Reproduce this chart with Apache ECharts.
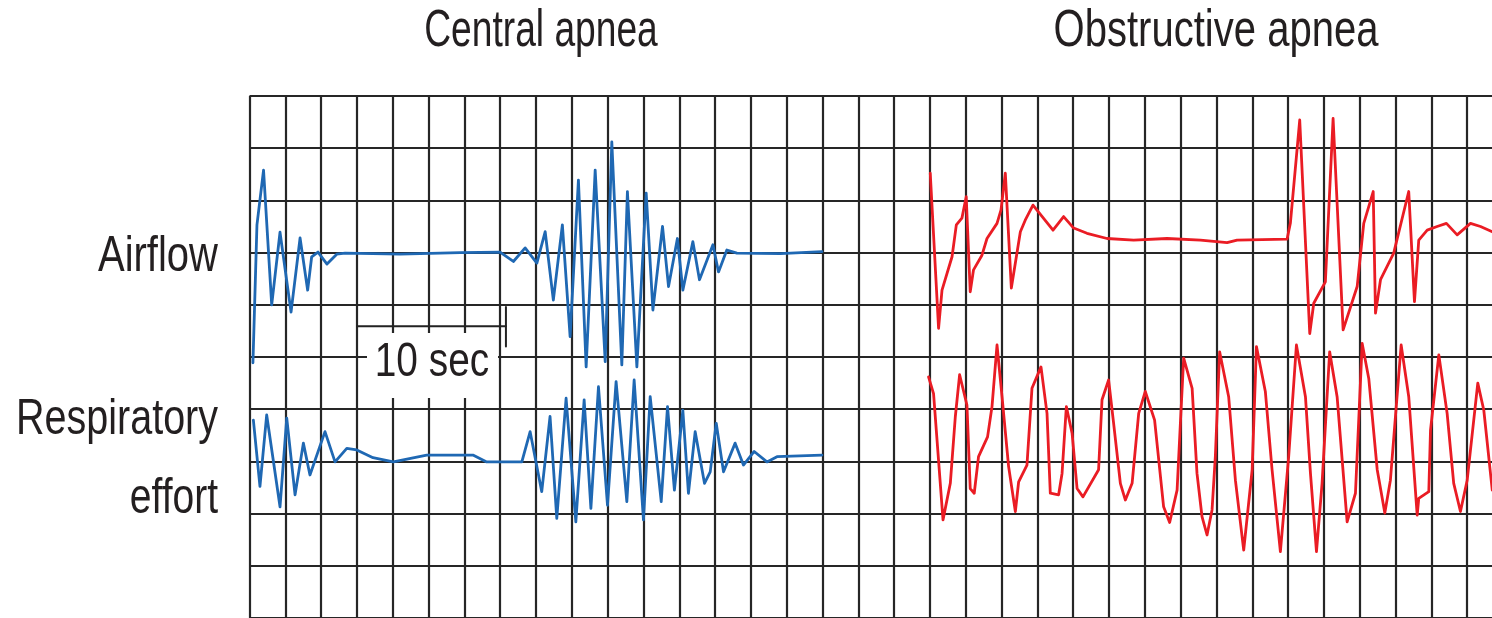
<!DOCTYPE html>
<html lang="en">
<head>
<meta charset="UTF-8"/>
<script src="https://cdn.jsdelivr.net/npm/echarts@6/dist/echarts.min.js"></script>
<title>Central vs obstructive apnea</title>
<style>html,body{margin:0;padding:0;background:#fff;overflow:hidden;}</style>
</head>
<body>
<!-- the chart runs a little past the right edge, like the cropped original -->
<div id="main" style="width:1503px;height:618px;"></div>
<script type="text/javascript">
// x = time in seconds (one grid cell = 2.5 s), y = level in grid cells from the bottom
var centralAirflow = [
    [0.24, 4.89], [0.52, 7.53], [0.98, 8.58], [1.55, 6.00], [2.13, 7.39], [2.90, 5.86],
    [3.53, 7.28], [4.06, 6.28], [4.34, 6.92], [4.78, 7.01], [5.41, 6.78], [6.09, 6.97],
    [6.67, 6.99], [10.51, 6.97], [14.70, 7.00], [17.49, 7.01], [18.42, 6.83], [19.24, 7.09],
    [20.06, 6.80], [20.64, 7.40], [21.21, 6.09], [21.84, 7.53], [22.38, 5.39], [22.96, 8.39],
    [23.50, 4.81], [24.13, 8.58], [24.83, 4.91], [25.29, 9.12], [25.99, 4.85], [26.38, 8.17],
    [27.04, 4.81], [27.69, 8.14], [28.16, 5.90], [28.83, 7.50], [29.25, 6.35], [29.87, 7.27],
    [30.25, 6.28], [30.95, 7.21], [31.41, 6.48], [32.35, 7.15], [32.74, 6.63], [33.32, 7.05],
    [34.02, 6.99], [37.05, 6.98], [39.96, 7.02]
];
var centralEffort = [
    [0.27, 3.79], [0.73, 2.52], [1.20, 3.89], [2.13, 2.13], [2.60, 3.83], [3.18, 2.36],
    [3.76, 3.35], [4.22, 2.74], [5.27, 3.57], [5.97, 2.99], [6.79, 3.25], [7.49, 3.22],
    [8.62, 3.07], [10.04, 2.99], [12.37, 3.12], [15.63, 3.12], [16.56, 2.99], [19.01, 2.99],
    [19.59, 3.57], [20.40, 2.42], [20.98, 3.86], [21.45, 1.91], [22.10, 4.21], [22.78, 1.84],
    [23.36, 4.18], [23.83, 2.10], [24.36, 4.43], [24.99, 2.16], [25.59, 4.53], [26.34, 2.23],
    [26.85, 4.56], [27.50, 1.88], [27.97, 4.24], [28.74, 2.23], [29.18, 4.05], [29.66, 2.45],
    [30.25, 3.98], [30.64, 2.39], [31.11, 3.57], [31.76, 2.58], [32.16, 2.80], [32.58, 3.73],
    [33.09, 2.80], [33.90, 3.35], [34.48, 2.93], [35.23, 3.19], [36.12, 2.99], [36.82, 3.09],
    [39.96, 3.12]
];
var obstructiveAirflow = [
    [47.52, 8.52], [48.10, 5.55], [48.34, 6.28], [49.04, 6.92], [49.34, 7.53], [49.73, 7.66],
    [50.03, 8.07], [50.31, 6.25], [50.54, 6.67], [51.13, 6.95], [51.48, 7.27], [52.18, 7.56],
    [52.46, 7.82], [52.76, 8.52], [53.18, 6.32], [53.81, 7.40], [54.15, 7.62], [54.69, 7.91],
    [56.09, 7.43], [56.83, 7.69], [57.53, 7.47], [58.46, 7.37], [59.86, 7.27], [61.72, 7.24],
    [64.05, 7.27], [66.38, 7.24], [68.24, 7.19], [68.94, 7.24], [72.43, 7.26], [72.66, 7.57],
    [73.31, 9.54], [74.01, 5.45], [74.29, 6.03], [75.10, 6.44], [75.64, 9.57], [76.34, 5.52],
    [77.32, 6.35], [77.78, 7.56], [78.44, 8.17], [78.60, 5.84], [78.95, 6.48], [79.87, 6.99],
    [80.92, 8.17], [81.32, 6.06], [81.62, 7.24], [82.21, 7.43], [82.90, 7.50], [83.55, 7.56],
    [84.30, 7.34], [85.23, 7.56], [85.93, 7.50], [86.75, 7.40]
];
var obstructiveEffort = [
    [47.40, 4.62], [47.75, 4.30], [48.41, 1.88], [48.92, 2.58], [49.27, 3.86], [49.57, 4.66],
    [50.08, 4.08], [50.31, 2.48], [50.59, 2.39], [50.89, 3.09], [51.52, 3.47], [51.83, 4.05],
    [52.18, 5.23], [52.53, 4.24], [52.99, 2.90], [53.46, 2.04], [53.69, 2.61], [54.27, 2.93],
    [54.62, 4.40], [55.25, 4.81], [55.67, 3.92], [55.90, 2.39], [56.48, 2.36], [56.72, 2.77],
    [57.02, 4.05], [57.42, 3.54], [57.77, 2.48], [58.18, 2.32], [59.27, 2.84], [59.51, 4.18],
    [59.97, 4.56], [60.32, 3.73], [60.79, 2.58], [61.14, 2.26], [61.61, 2.58], [62.07, 3.92],
    [62.53, 4.34], [63.18, 3.79], [63.81, 2.13], [64.23, 1.83], [64.75, 2.45], [64.98, 3.73],
    [65.21, 4.98], [65.80, 4.40], [66.14, 2.77], [66.49, 1.94], [66.84, 1.59], [67.19, 2.07],
    [67.42, 3.09], [67.72, 5.10], [68.35, 4.24], [68.82, 2.64], [69.40, 1.30], [69.99, 2.84],
    [70.29, 5.20], [70.91, 4.34], [71.38, 2.84], [71.96, 1.27], [72.54, 3.09], [73.08, 5.23],
    [73.71, 4.24], [74.06, 2.77], [74.48, 1.27], [74.87, 2.58], [75.40, 5.10], [75.92, 4.24],
    [76.62, 1.84], [77.20, 2.39], [77.67, 5.26], [78.13, 4.59], [78.72, 2.84], [79.25, 2.01],
    [79.64, 2.64], [80.39, 5.23], [80.92, 4.24], [81.51, 1.97], [81.62, 2.29], [82.32, 2.42],
    [82.44, 3.60], [83.02, 5.04], [83.60, 3.92], [84.06, 2.58], [84.53, 2.04], [85.00, 2.64],
    [85.74, 4.50], [86.16, 3.98], [86.75, 2.45]
];
// 10 second scale bar
var scaleBar = [[7.5, 5.59], [17.9, 5.59]];
var scaleTick = [[17.9, 5.96], [17.9, 5.20]];

var titles = ['Central apnea', 'Obstructive apnea'];
var rowLabels = ['Airflow', 'Respiratory', 'effort'];
var scaleLabel = '10 sec';

var BLUE = '#1f68b3';
var RED = '#ea1c24';
var INK = '#231f20';
var FONT = '"Liberation Sans", Arial, sans-serif';

var myChart = echarts.init(document.getElementById('main'));

function trace(data, color, w) {
    return {
        type: 'line',
        data: data,
        showSymbol: false,
        symbol: 'none',
        smooth: false,
        lineStyle: { color: color, width: w, join: 'round', cap: 'round' },
        z: 3
    };
}

function txt(text, x, y, size, align, sx) {
    return {
        type: 'text',
        x: x,
        y: y,
        scaleX: sx,
        z: 20,
        style: {
            text: text,
            font: size + 'px ' + FONT,
            fill: INK,
            textAlign: align,
            textVerticalAlign: 'middle'
        }
    };
}

var option = {
    animation: false,
    backgroundColor: '#fff',
    grid: { left: 249.5, right: 0, top: 96, height: 524 },
    xAxis: {
        type: 'value',
        min: 0,
        max: 87.5,
        interval: 2.5,
        axisLine: { show: false },
        axisTick: { show: false },
        axisLabel: { show: false },
        splitLine: { show: true, lineStyle: { color: '#262626', width: 2.2 } }
    },
    yAxis: {
        type: 'value',
        min: 0,
        max: 10,
        interval: 1,
        axisLine: { show: false },
        axisTick: { show: false },
        axisLabel: { show: false },
        splitLine: { show: true, lineStyle: { color: '#262626', width: 2.2 } }
    },
    graphic: [
        { type: 'rect', z: 10, shape: { x: 367, y: 333, width: 131, height: 65 }, style: { fill: '#fff' } },
        txt(titles[0], 541, 32, 52, 'center', 0.715),
        txt(titles[1], 1216, 32, 52, 'center', 0.77),
        txt(rowLabels[0], 218, 257, 50, 'right', 0.8),
        txt(rowLabels[1], 218, 420, 50, 'right', 0.79),
        txt(rowLabels[2], 218, 499, 50, 'right', 0.78),
        txt(scaleLabel, 432, 363, 48, 'center', 0.81)
    ],
    series: [
        trace(centralAirflow, BLUE, 2.8),
        trace(centralEffort, BLUE, 2.8),
        trace(obstructiveAirflow, RED, 2.8),
        trace(obstructiveEffort, RED, 2.8),
        trace(scaleBar, '#222', 2),
        trace(scaleTick, '#222', 2)
    ]
};

myChart.setOption(option);
</script>
</body>
</html>
